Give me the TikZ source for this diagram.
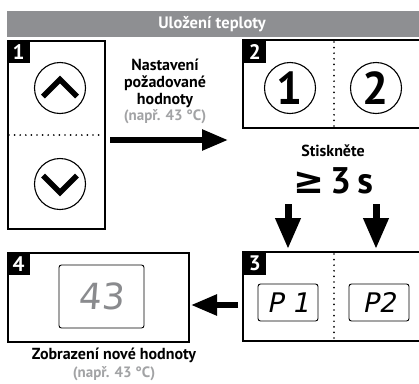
\documentclass[tikz,border=0pt]{standalone}
\usepackage{fontspec}
\setmainfont{PT Sans}
\newfontfamily\symf{DejaVu Sans}
\newfontfamily\lcdf{DejaVu Sans}[FakeSlant=0.2]
\newfontfamily\lcdg{DejaVu Sans}[FakeSlant=0.08]
\usetikzlibrary{arrows.meta}
\definecolor{titlegray}{HTML}{8E8F92}
\definecolor{txtgray}{HTML}{A2A3A5}
\definecolor{lcdgray}{HTML}{8A8B8E}
\begin{document}
\begin{tikzpicture}[x=1pt,y=-1pt,
  box/.style={draw, line width=1.6pt, inner sep=0pt, anchor=north west},
  numlabel/.style={fill=black, text=white, font=\bfseries\fontsize{21}{21}\selectfont, minimum size=23pt, inner sep=0pt, anchor=north west},
  dotline/.style={line width=1.9pt, dash pattern=on 0pt off 5.6pt, line cap=round},
  key/.style={circle, draw, line width=1.1pt, minimum size=51pt, inner sep=0pt},
  chev/.style={line width=5.5pt, line join=miter},
  lcd/.style={draw, rounded corners=2.5pt, line width=0.9pt, inner sep=0pt},
  bigarrow/.style={line width=5.5pt, -{Triangle[length=26pt,width=20pt]}},
  downarrow/.style={line width=7pt, -{Triangle[length=31pt,width=24pt]}},
  capt/.style={font=\bfseries\fontsize{16}{17}\selectfont, align=center},
  note/.style={font=\bfseries\fontsize{15}{17}\selectfont, text=txtgray, inner sep=1pt}
]
\useasboundingbox (0,0) rectangle (419,383);
\fill[white] (0,0) rectangle (419,383);
% title bar
\node[fill=titlegray, minimum width=412pt, minimum height=26pt, inner sep=0pt, anchor=north west] (title) at (7,11) {};
\node[text=white, font=\bfseries\fontsize{16.5}{18}\selectfont] (titletext) at (212,24) {Uložení teploty};

% box 1
\node[box, minimum width=97pt, minimum height=188pt] (b1) at (7,40) {};
\node[numlabel] (l1) at (7,40) {1};
\coordinate (d1a) at (9,135);
\coordinate (d1b) at (104,135);
\draw[dotline] (d1a) -- (d1b);
\node[key] (up) at (60,88) {};
\node[key] (down) at (60,184) {};
\draw[chev] ([shift={(-17,8.5)}]up.center) -- ([shift={(0,-8.5)}]up.center) -- ([shift={(17,8.5)}]up.center);
\draw[chev] ([shift={(-17,-8.5)}]down.center) -- ([shift={(0,8.5)}]down.center) -- ([shift={(17,-8.5)}]down.center);

% text 1
\node[capt] (t1) at (165,83) {Nastavení\\požadované\\hodnoty};
\node[note] (t1n) at (165,117) {(např. 43 °C)};
\coordinate (a1s) at (110,140);
\coordinate (a1e) at (228,140);
\draw[bigarrow] (a1s) -- (a1e);

% box 2 (open at right)
\coordinate (b2nw) at (243,40);
\coordinate (b2sw) at (243,128);
\draw[line width=1.6pt] (420,40) -- (b2nw) -- (b2sw) -- (420,128);
\node[numlabel] (l2) at (b2nw) {2};
\coordinate (d2a) at (334,42);
\coordinate (d2b) at (334,128);
\draw[dotline] (d2a) -- (d2b);
\node[key, font=\bfseries\fontsize{46}{46}\selectfont] (k1) at (290,88) {1};
\node[key, font=\bfseries\fontsize{46}{46}\selectfont] (k2) at (376,88) {2};

\node[capt] (press) at (333,151) {Stiskněte};
\node[font=\bfseries\fontsize{37}{37}\selectfont] (dur) at (333,181) {{\symf ≥}\,3\,s};

% box 3
\coordinate (b3nw) at (243,252);
\coordinate (b3sw) at (243,341);
\draw[line width=1.6pt] (420,252) -- (b3nw) -- (b3sw) -- (420,341);
\node[numlabel] (l3) at (b3nw) {3};
\coordinate (d3a) at (334,254);
\coordinate (d3b) at (334,341);
\draw[dotline] (d3a) -- (d3b);
\node[lcd, minimum width=60pt, minimum height=37pt, font=\lcdf\fontsize{27}{27}\selectfont] (p1) at (288,302.5) {P 1};
\node[lcd, minimum width=60pt, minimum height=37pt, font=\lcdf\fontsize{27}{27}\selectfont] (p2) at (379,302.5) {P2};

\coordinate (a2s) at (288,204);
\coordinate (a2e) at (288,249);
\coordinate (a3s) at (376,204);
\coordinate (a3e) at (376,249);
\draw[downarrow] (a2s) -- (a2e);
\draw[downarrow] (a3s) -- (a3e);

% box 4
\node[box, minimum width=181pt, minimum height=89pt] (b4) at (7,252) {};
\node[numlabel] (l4) at (7,252) {4};
\node[lcd, minimum width=85pt, minimum height=63pt, text=lcdgray, font=\lcdg\fontsize{36}{36}\selectfont] (disp) at (101.5,296.5) {43};

\coordinate (a4s) at (238,305);
\coordinate (a4e) at (191,305);
\draw[bigarrow] (a4s) -- (a4e);

\node[capt] (t4) at (114,355) {Zobrazení nové hodnoty};
\node[note] (t4n) at (114,373.5) {(např. 43 °C)};
\end{tikzpicture}
\end{document}
